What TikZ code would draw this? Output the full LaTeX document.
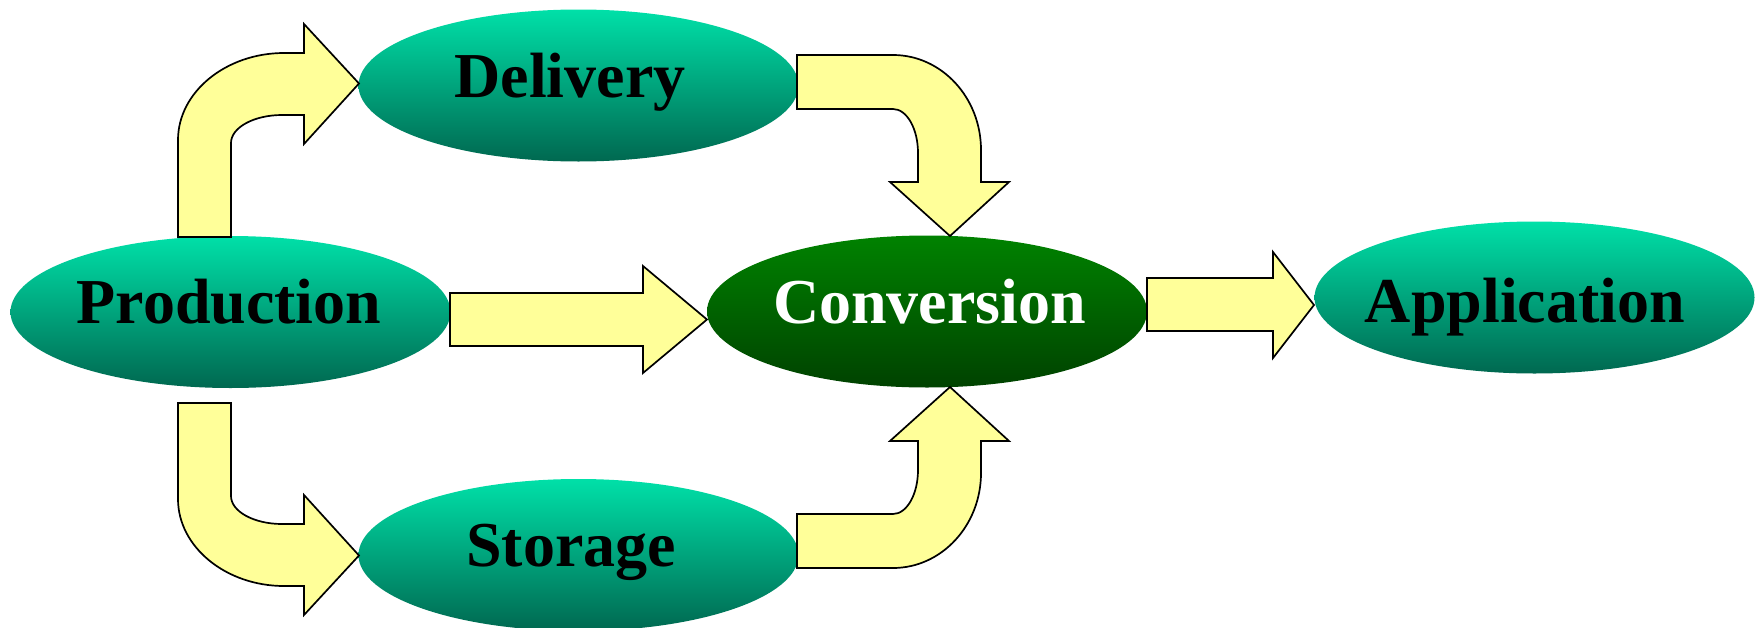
\documentclass[tikz,border=0pt]{standalone}
\usepackage{fontspec}
\setmainfont{Liberation Serif}
\usetikzlibrary{shapes.geometric}
\definecolor{tealtop}{RGB}{0,224,168}
\definecolor{tealbot}{RGB}{0,104,80}
\definecolor{greentop}{RGB}{0,130,0}
\definecolor{greenbot}{RGB}{0,66,0}
\definecolor{arrowfill}{RGB}{255,255,153}
\tikzset{
  blob/.style={ellipse, draw=none, inner sep=0pt, minimum width=220pt, minimum height=76pt,
               top color=tealtop, bottom color=tealbot},
  darkblob/.style={blob, top color=greentop, bottom color=greenbot},
  lbl/.style={anchor=base, inner sep=0pt, font=\fontsize{32pt}{36pt}\selectfont\bfseries, text=black},
  blockarrow/.style={fill=arrowfill, draw=black, line width=0.85pt, line join=miter}
}
\begin{document}
\begin{tikzpicture}[x=0.5pt, y=-0.5pt]
\useasboundingbox (0,0) rectangle (1756,627);
% ellipses
\node[blob] (prod) at (230.5,312) {};
\node[blob] (deliv) at (578.5,85.5) {};
\node[blob] (stor) at (578.5,555) {};
\node[darkblob] (conv) at (927,311.5) {};
\node[blob] (appl) at (1534.5,297.5) {};
% labels
\node[lbl] (prodt) at (229,323) {Production};
\node[lbl] (delivt) at (570,97) {Delivery};
\node[lbl] (stort) at (571,566) {Storage};
\node[lbl, text=white] (convt) at (929.5,323) {Conversion};
\node[lbl] (applt) at (1525,322) {Application};
% arrows
% Production -> Delivery
\draw[blockarrow] (178,237) -- (178,140) .. controls (178,92) and (226,53) .. (284,53)
  -- (304,53) -- (304,24) -- (359,83.5) -- (304,144) -- (304,115) -- (282,115)
  .. controls (254,115) and (231,127.5) .. (231,143) -- (231,237) -- cycle;
% Production -> Storage
\draw[blockarrow] (178,403) -- (178,499) .. controls (178,547) and (226,586) .. (284,586)
  -- (304,586) -- (304,615) -- (359,555.5) -- (304,495) -- (304,524) -- (282,524)
  .. controls (254,524) and (231,511.5) .. (231,496) -- (231,403) -- cycle;
% Production -> Conversion
\draw[blockarrow] (450,293) -- (643,293) -- (643,266) -- (707,319.5) -- (643,373)
  -- (643,346) -- (450,346) -- cycle;
% Conversion -> Application
\draw[blockarrow] (1147,278) -- (1273,278) -- (1273,252) -- (1314,305) -- (1273,358)
  -- (1273,331) -- (1147,331) -- cycle;
% Delivery -> Conversion
\draw[blockarrow] (797,55) -- (893,55) .. controls (941.6,55) and (981,97.6) .. (981,150)
  -- (981,182) -- (1009,182) -- (950,236) -- (890,182) -- (918,182) -- (918,153)
  .. controls (918,128.7) and (906.8,109) .. (893,109) -- (797,109) -- cycle;
% Storage -> Conversion
\draw[blockarrow] (797,568) -- (893,568) .. controls (941.6,568) and (981,525.4) .. (981,473)
  -- (981,441) -- (1009,441) -- (950,387) -- (890,441) -- (918,441) -- (918,470)
  .. controls (918,494.3) and (906.8,514) .. (893,514) -- (797,514) -- cycle;
\end{tikzpicture}
\end{document}
